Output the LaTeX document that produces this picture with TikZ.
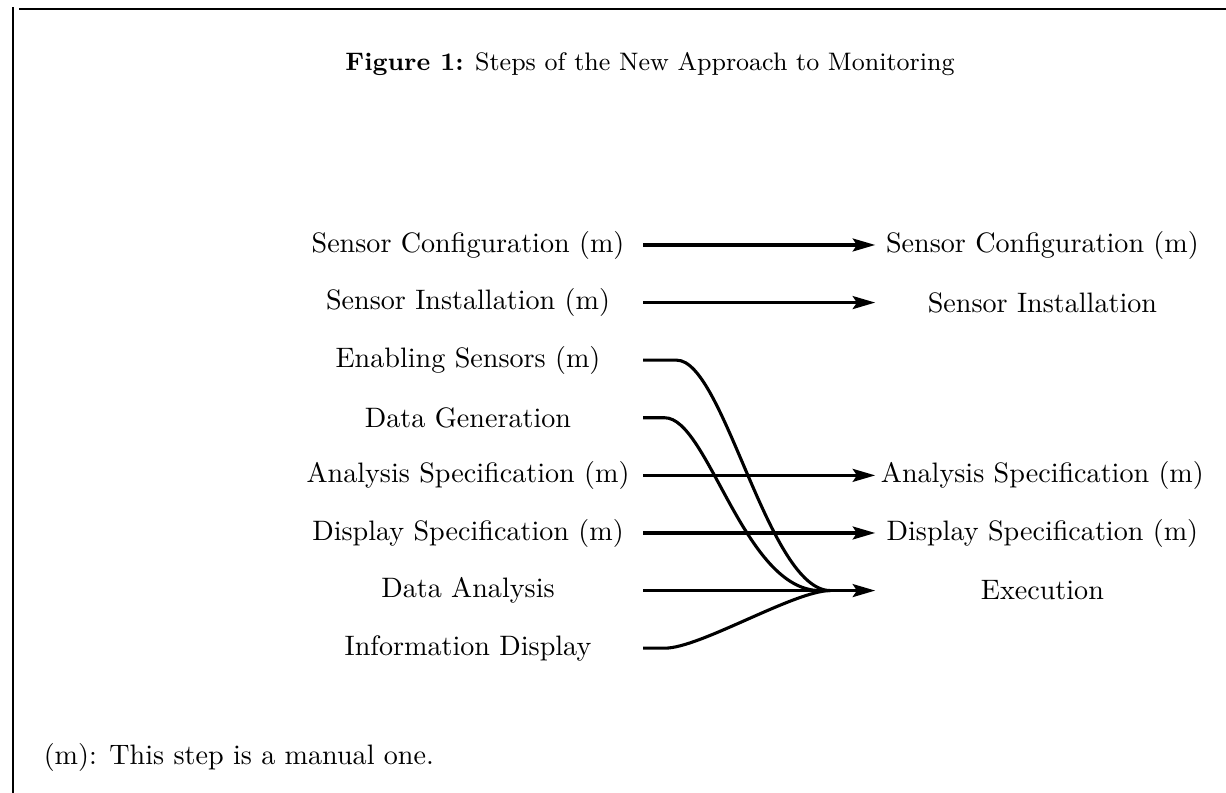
\documentclass[tikz,border=0pt]{standalone}
\usepackage{tikz}
\usetikzlibrary{arrows.meta}

\begin{document}
\begin{tikzpicture}[>={Stealth[length=8pt, width=4.6pt, inset=1.5pt]},
  stage/.style={font=\normalsize, inner sep=1pt, anchor=center},
  flow/.style={->, line width=1.1pt},
  merge/.style={line width=1.1pt}]

  \useasboundingbox (0,0) rectangle (15.325,9.9125);

  % Page frame (top rule and left margin rule)
  \draw[line width=1pt] (0.24,9.8) -- (15.325,9.8);
  \draw[line width=1pt] (0.1625,9.82) -- (0.1625,0);

  % Caption
  \node[font=\small] (cap) at (8.125,9.11)
    {\textbf{Figure\ 1:} Steps of the New Approach to Monitoring};

  % Start and end columns of the arrows
  \coordinate (src) at (8.04,0);
  \coordinate (dst) at (10.94,0);

  % Old steps (left column)
  \node[stage] (conf)   at (5.85,6.85) {Sensor Configuration (m)};
  \node[stage] (inst)   at (5.85,6.13) {Sensor Installation (m)};
  \node[stage] (enab)   at (5.85,5.41) {Enabling Sensors (m)};
  \node[stage] (gen)    at (5.85,4.69) {Data Generation};
  \node[stage] (anspec) at (5.85,3.97) {Analysis Specification (m)};
  \node[stage] (dispec) at (5.85,3.25) {Display Specification (m)};
  \node[stage] (anal)   at (5.85,2.53) {Data Analysis};
  \node[stage] (info)   at (5.85,1.81) {Information Display};

  % New steps (right column)
  \node[stage] (nconf)   at (13.03,6.85) {Sensor Configuration (m)};
  \node[stage] (ninst)   at (13.03,6.13) {Sensor Installation};
  \node[stage] (nanspec) at (13.03,3.97) {Analysis Specification (m)};
  \node[stage] (ndispec) at (13.03,3.25) {Display Specification (m)};
  \node[stage] (exec)    at (13.03,2.53) {Execution};

  % Straight mappings
  \draw[flow] (conf -| src) -- (nconf -| dst);
  \draw[flow] (inst -| src) -- (ninst -| dst);
  \draw[flow] (anspec -| src) -- (nanspec -| dst);
  \draw[flow] (dispec -| src) -- (ndispec -| dst);
  \draw[flow] (anal -| src) -- (exec -| dst);

  % Steps folded into execution
  \draw[merge] (enab -| src) -- ++(0.42,0)
    .. controls (9.05,5.41) and (9.6,2.53) .. (10.38,2.53);
  \draw[merge] (gen -| src) -- ++(0.27,0)
    .. controls (8.85,4.69) and (9.3,2.53) .. (10.25,2.53);
  \draw[merge] (info -| src) -- ++(0.27,0)
    .. controls (8.75,1.81) and (9.93,2.53) .. (10.38,2.53);

  % Footnote
  \node[anchor=west, inner sep=0pt] (note) at (0.54,0.45) {(m): This step is a manual one.};

\end{tikzpicture}
\end{document}
